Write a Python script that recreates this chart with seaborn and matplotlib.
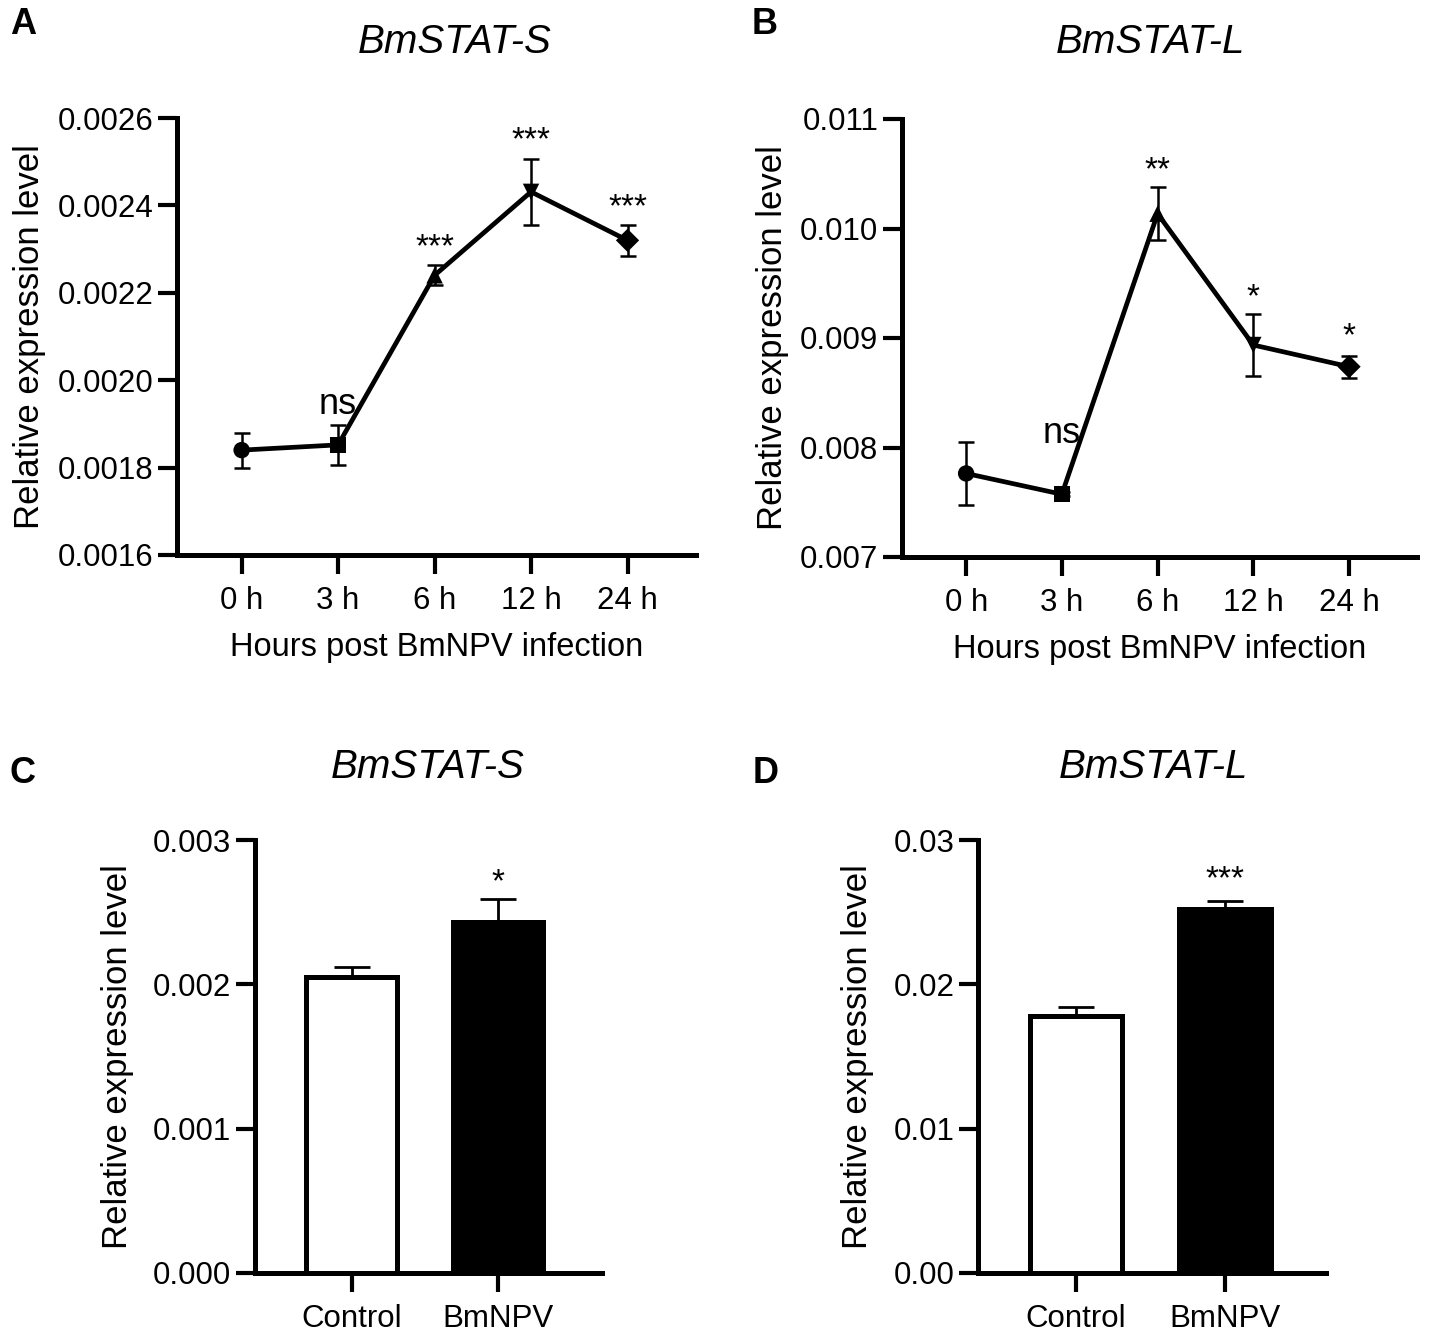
import numpy as np
import seaborn as sns
import matplotlib.pyplot as plt
from matplotlib.ticker import FormatStrFormatter

# ---- data ----
time_labels = ["0 h", "3 h", "6 h", "12 h", "24 h"]
time_markers = ["o", "s", "^", "v", "D"]

stat_s_time_mean = [0.00184, 0.001852, 0.00224, 0.002431, 0.00232]
stat_s_time_sem = [0.00004, 0.000045, 0.000023, 0.000076, 0.000035]
stat_s_time_sig = ["", "ns", "***", "***", "***"]

stat_l_time_mean = [0.007763, 0.007573, 0.010135, 0.008936, 0.008738]
stat_l_time_sem = [0.00029, 0.00002, 0.00024, 0.00028, 0.0001]
stat_l_time_sig = ["", "ns", "**", "*", "*"]

groups = ["Control", "BmNPV"]
group_colors = ["white", "black"]

stat_s_bar_mean = [0.00205, 0.002434]
stat_s_bar_sem = [0.00007, 0.00016]
stat_s_bar_sig = ["", "*"]

stat_l_bar_mean = [0.0178, 0.0252]
stat_l_bar_sem = [0.0006, 0.0006]
stat_l_bar_sig = ["", "***"]

W, H = 1430, 1333

sns.set_style("ticks")
plt.rcParams["font.family"] = ["Liberation Sans", "DejaVu Sans"]
plt.rcParams["font.size"] = 22
for key in ["text.color", "axes.labelcolor", "xtick.color", "ytick.color",
            "axes.edgecolor"]:
    plt.rcParams[key] = "black"


def px_axes(fig, x0, y0, x1, y1):
    return fig.add_axes([x0 / W, 1 - y1 / H, (x1 - x0) / W, (y1 - y0) / H])


def style_axes(ax, ylim, yticks, fmt, ylabel_pad):
    ax.set_ylim(*ylim)
    ax.set_yticks(yticks)
    ax.yaxis.set_major_formatter(FormatStrFormatter(fmt))
    sns.despine(ax=ax)
    for s in ["left", "bottom"]:
        ax.spines[s].set_linewidth(3.6)
        ax.spines[s].set_color("black")
    ax.tick_params(axis="both", length=14, width=3, color="black",
                   labelsize=22.5, labelcolor="black")
    ax.tick_params(axis="y", pad=3)
    ax.tick_params(axis="x", pad=8)
    ax.set_ylabel("Relative expression level", fontsize=25, labelpad=ylabel_pad)


def annotate_sig(ax, xs, tops, labels, offsets):
    for x, t, lab, off in zip(xs, tops, labels, offsets):
        if not lab:
            continue
        fs = 26 if lab == "ns" else 24
        ax.annotate(lab, xy=(x, t), xytext=(0, off), textcoords="offset pixels",
                    ha="center", va="baseline", fontsize=fs, color="black")


def time_panel(ax, means, sems, sig, offsets, ylim, yticks, fmt):
    idx = np.arange(len(time_labels))
    ax.errorbar(idx, means, yerr=sems, fmt="none", ecolor="black",
                elinewidth=1.8, capsize=6, capthick=1.8, zorder=2)
    sns.lineplot(x=idx, y=means, color="black", lw=3.4, ax=ax, zorder=3)
    sns.scatterplot(x=idx, y=means, style=time_labels,
                    markers=dict(zip(time_labels, time_markers)),
                    s=140, color="black", edgecolor="black", linewidth=0,
                    legend=False, ax=ax, zorder=4)
    style_axes(ax, ylim, yticks, fmt, 8)
    ax.set_xticks(idx)
    ax.set_xticklabels(time_labels)
    ax.set_xlim(-0.67, 4.71)
    ax.set_xlabel("Hours post BmNPV infection", fontsize=23.5, labelpad=12)
    tops = np.array(means) + np.array(sems)
    annotate_sig(ax, idx, tops, sig, offsets)


def bar_panel(ax, means, sems, sig, offsets, ylim, yticks, fmt, xlim):
    sns.barplot(x=groups, y=means, hue=groups,
                palette=dict(zip(groups, group_colors)), legend=False,
                width=0.62, edgecolor="black", linewidth=3.6,
                errorbar=None, ax=ax, zorder=2)
    idx = np.arange(len(groups))
    ax.errorbar(idx, means, yerr=[np.zeros(len(sems)), sems], fmt="none",
                ecolor="black", elinewidth=2, capsize=13, capthick=2, zorder=3)
    style_axes(ax, ylim, yticks, fmt, 14)
    ax.set_xlim(*xlim)
    ax.set_xlabel("")
    tops = np.array(means) + np.array(sems)
    annotate_sig(ax, idx, tops, sig, offsets)


fig = plt.figure(figsize=(W / 100, H / 100), dpi=100)

ax_a = px_axes(fig, 177, 118, 696, 555)
time_panel(ax_a, stat_s_time_mean, stat_s_time_sem, stat_s_time_sig,
           [0, 11, 9, 9, 9], (0.0016, 0.0026),
           np.arange(0.0016, 0.00261, 0.0002), "%.4f")

ax_b = px_axes(fig, 902, 119, 1417, 557)
time_panel(ax_b, stat_l_time_mean, stat_l_time_sem, stat_l_time_sig,
           [0, 49, 8, 8, 10], (0.007, 0.011),
           np.arange(0.007, 0.01101, 0.001), "%.3f")

ax_c = px_axes(fig, 255, 840, 602, 1273)
bar_panel(ax_c, stat_s_bar_mean, stat_s_bar_sem, stat_s_bar_sig,
          [0, 7], (0, 0.003), np.arange(0, 0.00301, 0.001), "%.3f",
          (-0.66, 1.71))

ax_d = px_axes(fig, 978, 840, 1326, 1273)
bar_panel(ax_d, stat_l_bar_mean, stat_l_bar_sem, stat_l_bar_sig,
          [0, 12], (0, 0.03), np.arange(0, 0.0301, 0.01), "%.2f",
          (-0.66, 1.68))

# panel letters and gene titles
for letter, x, y in [("A", 23, 25), ("B", 765, 25), ("C", 23, 773), ("D", 766, 773)]:
    fig.text(x / W, 1 - y / H, letter, fontsize=26, fontweight="bold",
             ha="center", va="center", color="black")
for title, x, y in [("BmSTAT-S", 455, 42), ("BmSTAT-L", 1150, 42),
                    ("BmSTAT-S", 428, 767), ("BmSTAT-L", 1153, 767)]:
    fig.text(x / W, 1 - y / H, title, fontsize=29, fontstyle="italic",
             ha="center", va="center", color="black")

fig.savefig("out.png", dpi=100, facecolor="white")
plt.close(fig)
